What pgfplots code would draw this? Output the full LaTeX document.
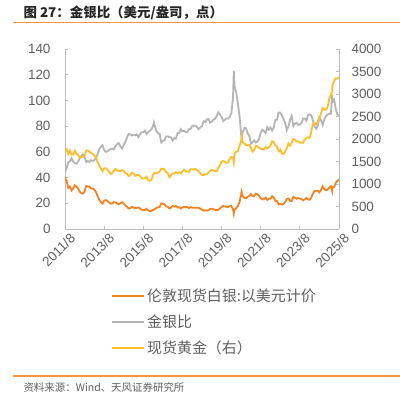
\documentclass[border=0pt]{standalone}
\usepackage{pgfplots}
\pgfplotsset{compat=1.18}
\usepackage{pgfplotstable}
\usepackage{fontspec}
\setmainfont{Liberation Sans}
\newfontfamily\cjk{Noto Sans CJK SC}
\definecolor{cS}{RGB}{245,130,32}
\definecolor{cR}{RGB}{180,180,180}
\definecolor{cG}{RGB}{255,190,40}
\definecolor{tx}{RGB}{95,95,95}
\definecolor{rulec}{RGB}{247,150,70}
\definecolor{axc}{RGB}{190,190,190}
\pgfplotstableread{
n s g r
0 40.0 1760 44.0
1 37.5 1780 47.5
2 32.0 1665 52.0
3 33.0 1740 52.7
4 30.0 1650 55.0
5 31.5 1655 52.5
6 34.0 1740 51.2
7 33.0 1675 50.8
8 31.5 1650 52.4
9 29.0 1590 54.8
10 28.0 1595 57.0
11 27.5 1595 58.0
12 29.0 1625 56.0
13 33.5 1745 52.1
14 33.0 1745 52.9
15 33.0 1720 52.1
16 31.5 1685 53.5
17 31.5 1670 53.0
18 30.5 1630 53.4
19 28.7 1590 55.4
20 25.5 1485 58.2
21 22.8 1415 62.1
22 21.0 1345 64.0
23 19.7 1285 65.2
24 22.0 1350 61.4
25 22.5 1350 60.0
26 21.8 1315 60.3
27 20.7 1275 61.6
28 19.7 1225 62.2
29 19.9 1245 62.6
30 21.0 1300 61.9
31 20.7 1335 64.5
32 19.7 1300 66.0
33 19.3 1290 66.8
34 20.0 1280 64.0
35 20.9 1310 62.7
36 19.8 1295 65.4
37 18.3 1240 67.8
38 17.2 1225 71.2
39 15.9 1175 73.9
40 16.3 1200 73.6
41 17.2 1250 72.7
42 16.8 1230 73.2
43 16.2 1180 72.8
44 16.3 1200 73.6
45 16.8 1200 71.4
46 16.0 1180 73.8
47 15.0 1130 75.3
48 14.9 1120 75.2
49 14.7 1125 76.5
50 15.7 1160 73.9
51 14.4 1085 75.3
52 14.0 1070 76.4
53 14.1 1095 77.7
54 15.0 1200 80.0
54.5 14.9 1235 82.9
55 15.4 1245 80.8
56 16.3 1240 76.1
57 16.9 1260 74.6
58 17.2 1275 74.1
59 19.9 1340 67.3
60 19.6 1340 68.4
61 19.2 1325 69.0
62 17.6 1265 71.9
63 17.2 1240 72.1
64 16.1 1150 71.4
65 16.7 1190 71.3
66 17.9 1235 69.0
67 17.4 1230 70.7
68 18.0 1265 70.3
69 16.7 1245 74.6
70 16.9 1260 74.6
71 15.9 1235 77.7
72 16.9 1285 76.0
73 17.2 1315 76.5
74 17.0 1280 75.3
75 17.0 1280 75.3
76 16.3 1265 77.6
77 17.1 1330 77.8
78 16.6 1330 80.1
79 16.5 1325 80.3
80 16.6 1335 80.4
81 16.5 1305 79.1
82 16.5 1280 77.6
83 15.7 1240 79.0
84 15.0 1200 80.0
85 14.3 1200 83.9
86 14.6 1215 83.2
87 14.3 1220 85.3
88 14.6 1250 85.6
89 15.6 1290 82.7
90 15.8 1320 83.5
91 15.3 1300 85.0
92 15.0 1285 85.7
93 14.6 1285 88.0
94 15.0 1360 90.7
95 15.9 1415 89.0
96 17.2 1500 87.2
97 18.0 1510 83.9
98 17.6 1495 84.9
99 17.1 1470 86.0
100 17.2 1480 86.0
101 17.9 1560 87.2
102 17.8 1600 89.9
103 15.5 1590 102.0
103.5 12.0 1480 123.0
104 15.1 1680 111.0
105 16.2 1715 106.0
106 17.7 1730 97.7
107 21.0 1845 87.9
108 26.9 1970 73.2
108.3 29.0 2060 71.0
109 25.5 1920 75.3
110 24.2 1900 78.5
111 23.8 1865 78.4
112 25.0 1860 74.4
113 25.8 1865 72.3
114 27.2 1810 66.5
115 25.5 1720 67.5
116 25.5 1760 69.0
117 27.5 1850 67.3
118 27.0 1835 68.0
119 25.7 1805 70.2
120 23.9 1785 74.7
121 23.0 1775 77.2
122 23.3 1775 76.2
123 24.4 1820 74.6
124 22.6 1790 79.2
125 23.5 1815 77.2
126 23.5 1855 78.9
127 25.5 1950 76.5
128 24.5 1935 79.0
129 21.8 1850 84.9
130 21.6 1835 85.0
131 19.1 1730 90.6
132 19.5 1765 90.5
133 19.0 1680 88.4
134 19.5 1665 85.4
135 20.9 1725 82.5
136 23.3 1795 77.0
137 23.8 1900 79.8
138 21.9 1855 84.7
139 21.8 1915 87.8
140 25.0 2000 80.0
141 24.3 1990 81.9
142 23.5 1940 82.6
143 24.1 1950 80.9
144 23.6 1920 81.4
145 23.2 1915 82.5
146 22.3 1915 85.9
147 23.1 1985 85.9
148 24.1 2030 84.2
149 23.0 2035 88.5
150 22.7 2025 89.2
151 24.5 2160 88.2
152 27.5 2330 84.7
153 29.5 2350 79.7
154 29.8 2325 78.0
155 29.8 2400 80.5
156 28.5 2470 86.7
157 30.5 2570 84.3
158 33.2 2690 81.0
159 31.0 2650 85.5
160 30.2 2650 87.7
161 30.5 2710 88.9
162 32.2 2890 89.8
163 33.3 2980 89.5
163.8 29.5 3050 104.0
164 32.4 3200 98.8
165 32.6 3280 100.6
166 35.8 3350 93.6
167 37.5 3340 89.1
168 38.5 3370 87.5
}\data
\begin{document}
\begin{tikzpicture}
\useasboundingbox (0,0) rectangle (405bp,394bp);
\pgfplotsset{
  every axis/.append style={
    at={(65bp,165bp)}, anchor=south west, scale only axis,
    width=274bp, height=180bp, xmin=0, xmax=168,
    axis line style={axc, line width=0.8pt}, tick style={axc, line width=0.8pt},
    major tick length=3bp,
    /pgf/number format/.cd, 1000 sep={}, assume math mode=true, /pgfplots/.cd,
    tick label style={font=\fontsize{13.5}{14}\selectfont, text=tx},
    legend style={at={(0.168,-0.32)}, anchor=north west, draw=none, fill=none,
      font=\cjk\fontsize{15}{16}\selectfont, text=tx, row sep=8bp,
      legend cell align=left, inner sep=0pt},
    legend image code/.code={\draw[#1, line width=2pt] (0bp,0bp) -- (32bp,0bp);},
  }
}
\begin{axis}[
  ymin=0, ymax=140, axis y line*=left, axis x line*=bottom,
  ytick={0,20,...,140},
  yticklabel style={xshift=-11bp},
  xtick={0,24,48,72,96,120,144,168},
  xticklabels={2011/8,2013/8,2015/8,2017/8,2019/8,2021/8,2023/8,2025/8},
  x tick label style={rotate=45, anchor=north east, xshift=4bp, yshift=-2bp},
]
\addplot[cR, line width=1.8pt] table[x=n, y=r] {\data};
\addplot[cS, line width=1.8pt] table[x=n, y=s] {\data};
\end{axis}
\begin{axis}[
  ymin=0, ymax=4000, axis y line*=right, axis x line=none,
  ytick={0,500,...,4000},
  yticklabel style={xshift=9bp},
]
\addlegendimage{cS}
\addlegendentry{伦敦现货白银:以美元计价}
\addlegendimage{cR}
\addlegendentry{金银比}
\addplot[cG, line width=1.8pt] table[x=n, y=g] {\data};
\addlegendentry{现货黄金（右）}
\end{axis}
\node[anchor=west, font=\cjk\bfseries\fontsize{13.5}{14}\selectfont, text=black!85] at (20bp,381bp) {图 27：金银比（美元/盎司，点）};
\draw[rulec, line width=1.4pt] (13bp,371.5bp) -- (400bp,371.5bp);
\draw[rulec, line width=1.4pt] (13bp,18bp) -- (400bp,18bp);
\node[anchor=west, font=\cjk\fontsize{10.5}{11}\selectfont, text=tx] at (20bp,6bp) {资料来源：Wind、天风证券研究所};
\end{tikzpicture}
\end{document}
